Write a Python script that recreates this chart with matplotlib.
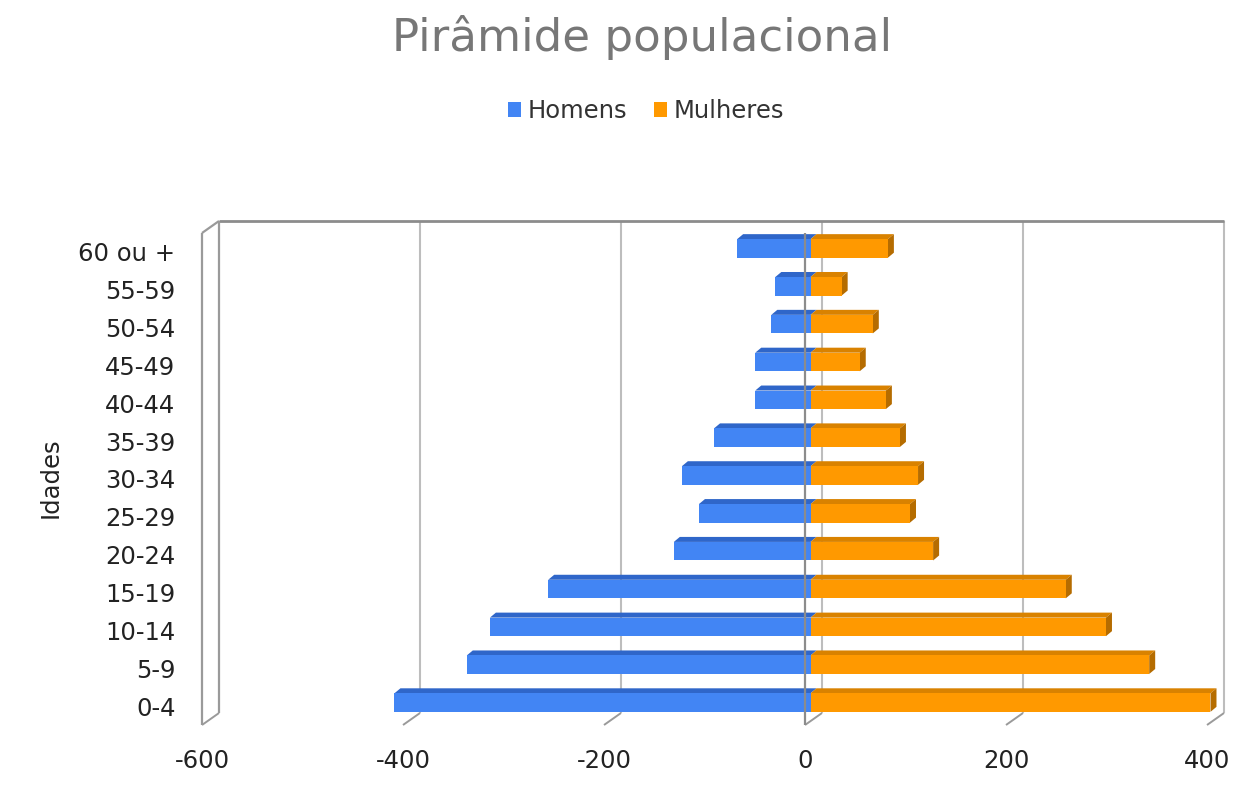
import matplotlib
matplotlib.use("Agg")
import matplotlib.pyplot as plt
from matplotlib.patches import Polygon, Patch

# Age groups, bottom to top, and population counts (men drawn to the left)
categories = ['0-4', '5-9', '10-14', '15-19', '20-24', '25-29', '30-34',
              '35-39', '40-44', '45-49', '50-54', '55-59', '60 ou +']
homens = [-414, -342, -319, -261, -136, -111, -128, -96, -55, -55, -39, -35, -73]
mulheres = [398, 337, 294, 254, 122, 99, 107, 89, 75, 49, 62, 31, 77]
x_ticks = [-600, -400, -200, 0, 200, 400]

BLUE = '#4285f4'
BLUE_TOP = '#2f66c9'
ORANGE = '#ff9900'
ORANGE_TOP = '#d98200'
ORANGE_SIDE = '#b56c00'
WALL = '#9a9a9a'
GRID = '#bdbdbd'

W_PX, H_PX = 1256, 793
fig = plt.figure(figsize=(W_PX / 100, H_PX / 100), dpi=100)
ax = fig.add_axes([202 / W_PX, 68 / H_PX, 1005 / W_PX, 492 / H_PX])
xmin, xmax = -600, 400
ymin, ymax = -0.5, len(categories) - 0.5
ax.set_xlim(xmin, xmax)
ax.set_ylim(ymin, ymax)

# pixel -> data unit conversion for the pseudo-3D depth offsets
pos = ax.get_position()
ux = (xmax - xmin) / (pos.width * W_PX)
uy = (ymax - ymin) / (pos.height * H_PX)


def off(px, py):
    return px * ux, py * uy


wall_dx, wall_dy = off(17, 12)
bar_f = off(5.5, 3.5)        # front face of bars
bar_b = off(11.5, 8.5)       # back of bars


def line(xs, ys, shift=(0, 0), **kw):
    ax.plot([x + shift[0] for x in xs], [y + shift[1] for y in ys],
            solid_capstyle='butt', clip_on=False, **kw)


back = (wall_dx, wall_dy)
# back wall gridlines
for t in x_ticks[1:-1]:
    line([t, t], [ymin, ymax], back, color=GRID, lw=1.5, zorder=1)
# back wall right edge and top edge
line([xmax, xmax], [ymin, ymax], back, color=GRID, lw=1.5, zorder=1)
line([xmin, xmax], [ymax, ymax], back, color='#8c8c8c', lw=2.0, zorder=1)
# left wall
line([xmin, xmin], [ymin, ymax], back, color=WALL, lw=1.6, zorder=1)
line([xmin, xmin], [ymin, ymax], color=WALL, lw=1.6, zorder=1)
line([xmin, xmin + wall_dx], [ymax, ymax + wall_dy], color=WALL, lw=1.6, zorder=1)
# floor ticks
for t in x_ticks:
    line([t, t + wall_dx], [ymin, ymin + wall_dy], color=WALL, lw=1.4, zorder=1)


def face(pts, color, z):
    ax.add_patch(Polygon(pts, closed=True, facecolor=color, edgecolor='none',
                         zorder=z, clip_on=False))


def bar(y, v, front, top, side=None):
    h = 0.49
    x0, x1 = min(0, v), max(0, v)
    yb, yt = y - h / 2, y + h / 2
    fx, fy = bar_f
    bx, by = bar_b
    face([(x0 + fx, yt + fy), (x1 + fx, yt + fy),
          (x1 + bx, yt + by), (x0 + bx, yt + by)], top, 3)
    if side is not None:
        face([(x1 + fx, yb + fy), (x1 + fx, yt + fy),
              (x1 + bx, yt + by), (x1 + bx, yb + by)], side, 3)
    face([(x0 + fx, yb + fy), (x1 + fx, yb + fy),
          (x1 + fx, yt + fy), (x0 + fx, yt + fy)], front, 4)


for i in range(len(categories)):
    bar(i, homens[i], BLUE, BLUE_TOP)
    bar(i, mulheres[i], ORANGE, ORANGE_TOP, ORANGE_SIDE)

# front value axis at zero
line([0, 0], [ymin, ymax], color='#8c8c8c', lw=1.6, zorder=5)

for s in ax.spines.values():
    s.set_visible(False)
ax.set_xticks(x_ticks)
ax.set_xticklabels([str(t) for t in x_ticks])
ax.set_yticks(range(len(categories)))
ax.set_yticklabels(categories)
ax.tick_params(axis='x', length=0, pad=17, labelsize=17.5, labelcolor='#222222')
ax.tick_params(axis='y', length=0, pad=19, labelsize=17.5, labelcolor='#222222')

fig.text(51 / W_PX, 1 - 478 / H_PX, 'Idades', rotation=90, ha='center',
         va='center', fontsize=17.5, color='#222222')
fig.text(642 / W_PX, 1 - 37 / H_PX, 'Pirâmide populacional', ha='center',
         va='center', fontsize=32.5, color='#777777')

handles = [Patch(facecolor=BLUE, edgecolor='none'),
           Patch(facecolor=ORANGE, edgecolor='none')]
fig.legend(handles, ['Homens', 'Mulheres'], loc='center',
           bbox_to_anchor=(646 / W_PX, 1 - 111 / H_PX), ncol=2, frameon=False,
           fontsize=17.5, handlelength=0.55, handleheight=0.55,
           handletextpad=0.25, columnspacing=1.1, labelcolor='#333333')

fig.savefig('out.png', dpi=100, facecolor='white')
